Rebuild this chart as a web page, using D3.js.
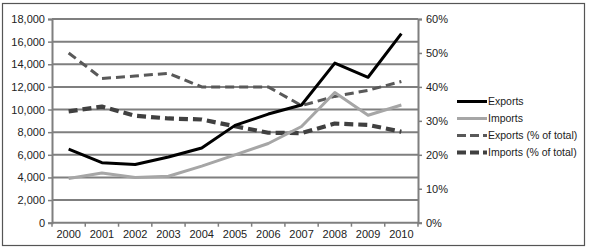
<!DOCTYPE html>
<html><head><meta charset="utf-8">
<script src="https://cdn.jsdelivr.net/npm/d3@7"></script>
<style>body{margin:0;background:#fff}svg{display:block}text{font-family:"Liberation Sans",Arial,sans-serif;fill:#222}</style>
</head><body><svg id="c" width="589" height="248"></svg>
<script>
const years = ["2000","2001","2002","2003","2004","2005","2006","2007","2008","2009","2010"];
const exportsVal = [6500,5300,5150,5800,6600,8600,9600,10400,14100,12850,16700];
const importsVal = [3900,4400,4000,4100,5000,6000,7000,8500,11500,9500,10400];
const exportsPct = [50,42.5,43.2,44,40,40,40,34.5,37.2,39,41.6];
const importsPct = [32.8,34.2,31.5,30.7,30.4,28.4,26.5,26.4,29.2,28.8,26.8];
const leftTicks = [0,2000,4000,6000,8000,10000,12000,14000,16000,18000];
const rightTicks = [0,10,20,30,40,50,60];
const seriesNames = ["Exports","Imports","Exports (% of total)","Imports (% of total)"];

const svg = d3.select("#c");
const L=52,R=418,T=19,B=222.7;
svg.append("rect").attr("x",2.5).attr("y",3.5).attr("width",582).attr("height",242).attr("fill","none").attr("stroke","#555").attr("stroke-width",1.2);

const x = d3.scaleBand().domain(years).range([L,R]);
const yL = d3.scaleLinear().domain([0,18000]).range([B,T]);
const yR = d3.scaleLinear().domain([0,60]).range([B,T]);

// gridlines
svg.append("g").selectAll("line").data(leftTicks).join("line")
  .attr("x1",L).attr("x2",R).attr("y1",d=>yL(d)).attr("y2",d=>yL(d))
  .attr("stroke","#7f7f7f").attr("stroke-width",2);

// left axis
const gl = svg.append("g").attr("transform",`translate(${L},0)`)
  .call(d3.axisLeft(yL).tickValues(leftTicks).tickFormat(d3.format(",")).tickSize(4).tickPadding(3));
gl.select(".domain").attr("stroke","#7f7f7f").attr("stroke-width",2);
gl.selectAll(".tick line").attr("stroke","#7f7f7f").attr("stroke-width",1.5);
gl.selectAll("text").attr("font-size",11).attr("fill","#222");

// right axis
const gr = svg.append("g").attr("transform",`translate(${R},0)`)
  .call(d3.axisRight(yR).tickValues(rightTicks).tickFormat(d=>d+"%").tickSize(4).tickPadding(4));
gr.select(".domain").attr("stroke","#7f7f7f").attr("stroke-width",2);
gr.selectAll(".tick line").attr("stroke","#7f7f7f").attr("stroke-width",1.5);
gr.selectAll("text").attr("font-size",11).attr("fill","#222");

// bottom axis
const gb = svg.append("g").attr("transform",`translate(0,${B})`)
  .call(d3.axisBottom(x).tickSize(0).tickPadding(8));
gb.select(".domain").remove();
gb.selectAll("text").attr("font-size",11).attr("fill","#222");
svg.append("g").selectAll("line").data(d3.range(years.length+1)).join("line")
  .attr("x1",i=>L+i*x.step()).attr("x2",i=>L+i*x.step()).attr("y1",B).attr("y2",B+4)
  .attr("stroke","#7f7f7f").attr("stroke-width",1.5);

const cx = d=>x(d)+x.bandwidth()/2;
const lineL = d3.line().x((d,i)=>cx(years[i])).y(d=>yL(d));
const lineR = d3.line().x((d,i)=>cx(years[i])).y(d=>yR(d));

const styles = [
  {c:"#000000",w:3,dash:null},
  {c:"#a6a6a6",w:3,dash:null},
  {c:"#595959",w:3,dash:"9,5"},
  {c:"#404040",w:4.2,dash:"9,5"}
];
const data = [[exportsVal,lineL],[importsVal,lineL],[exportsPct,lineR],[importsPct,lineR]];
[3,2,1,0].forEach(k=>{
  const s=styles[k];
  svg.append("path").attr("d",data[k][1](data[k][0])).attr("fill","none")
    .attr("stroke",s.c).attr("stroke-width",s.w).attr("stroke-dasharray",s.dash)
    .attr("stroke-linejoin","round");
});

// legend
const lg = svg.append("g");
seriesNames.forEach((n,i)=>{
  const y = 101.5+i*17;
  const s = styles[i];
  lg.append("line").attr("x1",457).attr("x2",487).attr("y1",y).attr("y2",y)
    .attr("stroke",s.c).attr("stroke-width",s.w).attr("stroke-dasharray",s.dash?"9,4":null);
  lg.append("text").attr("x",488).attr("y",y).attr("dy","0.35em").attr("font-size",10.5).text(n);
});
</script></body></html>
